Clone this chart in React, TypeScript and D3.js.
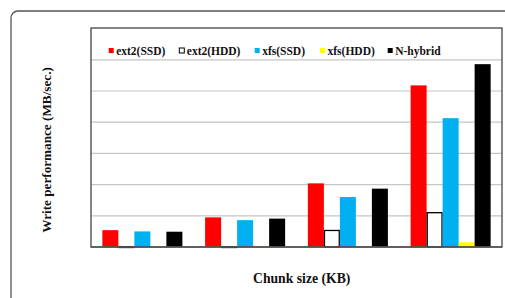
import React from "react";
import * as d3 from "d3";

const groups = ["4", "16", "64", "256"];
const seriesNames = ["ext2(SSD)", "ext2(HDD)", "xfs(SSD)", "xfs(HDD)", "N-hybrid"];
const seriesColors = ["#ff0000", "#ffffff", "#00b0f0", "#ffff00", "#000000"];
const ext2SSD = [0.54, 0.95, 2.04, 5.18];
const ext2HDD = [0.01, 0.01, 0.53, 1.1];
const xfsSSD = [0.5, 0.86, 1.6, 4.13];
const xfsHDD = [0.01, 0.01, 0.02, 0.15];
const nHybrid = [0.49, 0.91, 1.87, 5.86];
const yTicks = [0, 1, 2, 3, 4, 5, 6];

const W = 505;
const H = 298;
const left = 91;
const right = 502;
const top = 28;
const bottom = 247;
const font = "'Liberation Serif', 'Times New Roman', serif";

export default function App() {
  const values = [ext2SSD, ext2HDD, xfsSSD, xfsHDD, nHybrid];
  const x0 = d3.scaleBand<string>().domain(groups).range([left, right]).padding(0);
  const x1 = d3
    .scaleBand<string>()
    .domain(seriesNames)
    .range([0, x0.bandwidth()])
    .paddingInner(0)
    .paddingOuter(0.71);
  const y = d3.scaleLinear().domain([0, 6]).range([bottom, 59.8]);

  const legendX = [108.7, 179.3, 254.7, 320, 387.7];

  return (
    <svg
      width={W}
      height={H}
      style={{ position: "absolute", left: 0, top: 0, display: "block" }}
    >
      <rect x={0} y={0} width={W} height={H} fill="#fff" />
      <rect x={11} y={11} width={540} height={340} rx={7} fill="none" stroke="#555" strokeWidth={1.3} />
      {/* gridlines */}
      {yTicks.slice(1).map((t) => (
        <line key={t} x1={left} x2={right} y1={y(t)} y2={y(t)} stroke="#c6c6c6" strokeWidth={1.2} />
      ))}
      {/* bars */}
      {groups.map((g, gi) =>
        seriesNames.map((s, si) => {
          const v = values[si][gi];
          const bx = (x0(g) as number) + (x1(s) as number);
          const by = y(v);
          const outlined = si === 1;
          return (
            <rect
              key={g + s}
              x={outlined ? bx + 0.6 : bx}
              y={by}
              width={outlined ? x1.bandwidth() - 1.2 : x1.bandwidth()}
              height={Math.max(bottom - by, 0.8)}
              fill={seriesColors[si]}
              stroke={outlined ? "#000" : "none"}
              strokeWidth={outlined ? 1.3 : 0}
            />
          );
        })
      )}
      {/* plot border */}
      <rect x={left} y={top} width={right - left} height={bottom - top} fill="none" stroke="#444" strokeWidth={1.3} />
      <line x1={left} x2={right} y1={bottom} y2={bottom} stroke="#555" strokeWidth={1.5} />
      {/* legend */}
      {seriesNames.map((s, i) => (
        <g key={s}>
          <rect
            x={legendX[i]}
            y={48}
            width={5}
            height={5}
            fill={seriesColors[i]}
            stroke={i === 1 ? "#000" : "none"}
            strokeWidth={1}
          />
          <text
            x={legendX[i] + 7.5}
            y={54.5}
            fontFamily={font}
            fontWeight="bold"
            fontSize={11.5}
            fill="#111"
          >
            {s}
          </text>
        </g>
      ))}
      {/* axis titles */}
      <text
        transform={`translate(51,150) rotate(-90)`}
        textAnchor="middle"
        fontFamily={font}
        fontWeight="bold"
        fontSize={13.2}
        fill="#111"
      >
        Write performance (MB/sec.)
      </text>
      <text
        x={301.7}
        y={283}
        textAnchor="middle"
        fontFamily={font}
        fontWeight="bold"
        fontSize={13.7}
        fill="#111"
      >
        Chunk size (KB)
      </text>
    </svg>
  );
}
